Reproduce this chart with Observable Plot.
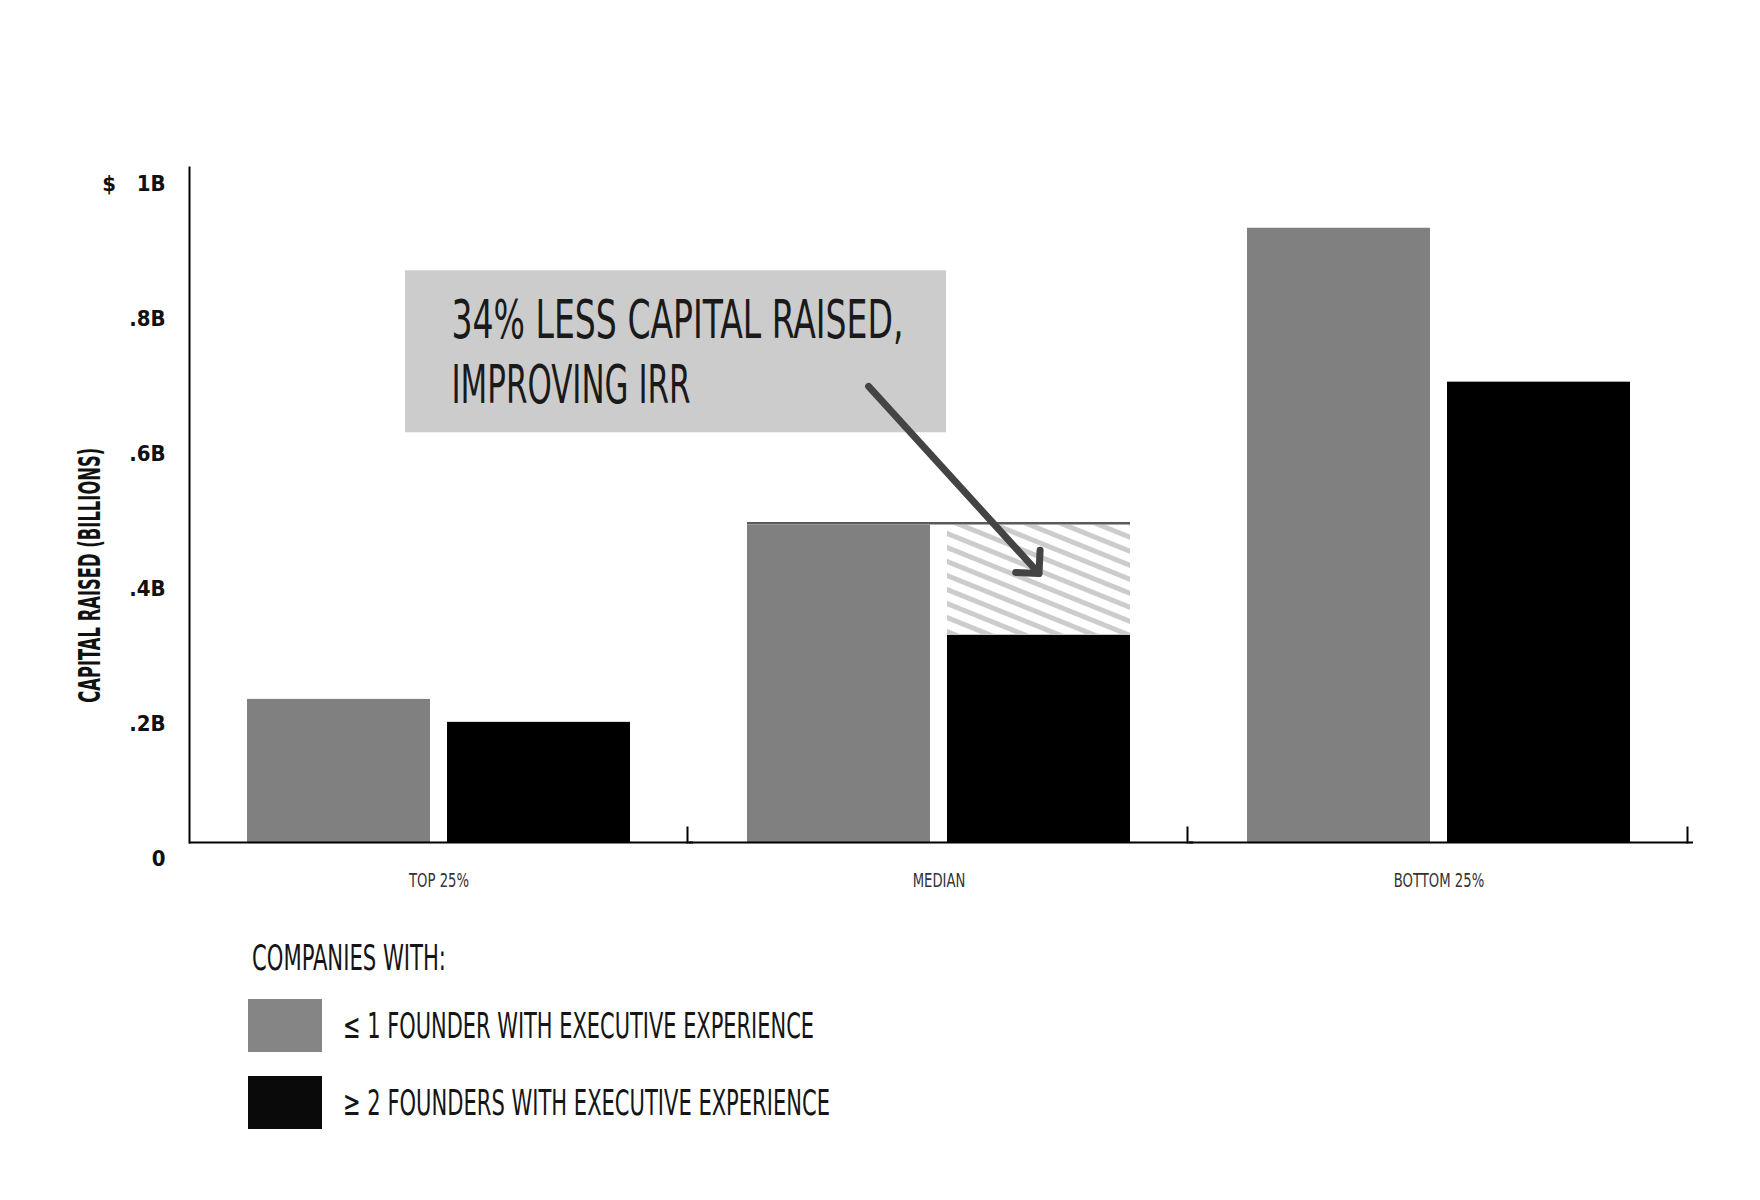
<!DOCTYPE html>
<html>
<head>
<meta charset="utf-8">
<script src="https://cdn.jsdelivr.net/npm/d3@7"></script>
<script src="https://cdn.jsdelivr.net/npm/@observablehq/plot@0.6"></script>
<style>
  html, body { margin: 0; padding: 0; background: #ffffff; }
  body { width: 1760px; height: 1200px; overflow: hidden;
         font-family: "Liberation Sans Narrow", "DejaVu Sans Condensed", "Liberation Sans", sans-serif; color: #151515; }
  #legend { position: relative; width: 1760px; height: 290px; }
  #legend .title { position: absolute; left: 252px; top: 24px; font-size: 36px; line-height: 48px; white-space: nowrap; transform-origin: 0 50%; display: inline-block; }
  #legend .row { position: absolute; left: 248px; height: 53px; display: flex; align-items: center; }
  #legend .sw { width: 74px; height: 53px; flex: none; }
  #legend .lab { margin-left: 21px; font-size: 35px; line-height: 48px; white-space: nowrap; display: inline-block; transform-origin: 0 50%; }
</style>
</head>
<body>
<svg width="0" height="0" style="position:absolute">
  <defs>
    <pattern id="hatch" patternUnits="userSpaceOnUse" width="13" height="13" patternTransform="rotate(22)">
      <rect x="0" y="0" width="13" height="5" fill="#cccccc"></rect>
    </pattern>
  </defs>
</svg>
<div id="chart"></div>
<div id="legend"></div>
<script>
// ---------- data ----------
const categories = ["TOP 25%", "MEDIAN", "BOTTOM 25%"];
const seriesKeys = ["le1", "ge2"];
const seriesLabels = ["\u2264 1 FOUNDER WITH EXECUTIVE EXPERIENCE", "\u2265 2 FOUNDERS WITH EXECUTIVE EXPERIENCE"];
const seriesColors = ["#808080", "#000000"];
const le1Values = [0.212, 0.470, 0.910];
const ge2Values = [0.178, 0.307, 0.682];
const yTicks = [0, 0.2, 0.4, 0.6, 0.8, 1];
const yTickLabels = ["0", ".2B", ".4B", ".6B", ".8B", "$\u00a0\u00a0\u00a01B"];
const yLabel = "CAPITAL RAISED (BILLIONS)";
const legendTitle = "COMPANIES WITH:";
const annotationLines = ["34% LESS CAPITAL RAISED,", "IMPROVING IRR"];
const annotationCategory = "MEDIAN";

// ---------- derived tables ----------
const rows = categories.flatMap((c, i) => [
  {category: c, series: seriesKeys[0], value: le1Values[i]},
  {category: c, series: seriesKeys[1], value: ge2Values[i]}
]);
const ai = categories.indexOf(annotationCategory);
const gapRows = [{category: annotationCategory, series: seriesKeys[1], from: ge2Values[ai], to: le1Values[ai]}];
const annRows = [{category: annotationCategory, text: annotationLines.join("\n"), from: seriesKeys[0], to: seriesKeys[1]}];
const yLabelRows = [{category: categories[0], text: yLabel}];

const FONT = '"Liberation Sans Narrow", "DejaVu Sans Condensed", "Liberation Sans", sans-serif';

const chart = Plot.plot({
  width: 1760,
  height: 910,
  marginLeft: 246,
  marginRight: 130,
  marginTop: 167,
  marginBottom: 68,
  style: {fontFamily: FONT, background: "#ffffff", color: "#151515", overflow: "visible"},
  fx: {domain: categories, paddingInner: 0.234, paddingOuter: 0, label: null},
  x: {domain: seriesKeys, paddingInner: 0.085, paddingOuter: 0, axis: null},
  y: {domain: [0, 1], axis: null},
  color: {domain: seriesKeys, range: seriesColors},
  marks: [
    // annotation box
    Plot.barY(annRows, {fx: "category", y1: 0.607, y2: 0.847, insetLeft: -342, insetRight: 184, fill: "#cccccc"}),
    // bars
    Plot.barY(rows, {fx: "category", x: "series", y: "value", fill: "series"}),
    // hatched difference
    Plot.barY(gapRows, {fx: "category", x: "series", y1: "from", y2: "to", fill: "url(#hatch)"}),
    Plot.ruleY(gapRows, {fx: "category", y: "to", stroke: "#5a5a5a", strokeWidth: 2.5, dy: -2}),
    // baseline and axis line
    Plot.ruleY([0], {insetLeft: -58, insetRight: -63, stroke: "#000", strokeWidth: 2}),
    Plot.frame({anchor: "left", facetAnchor: "left", insetLeft: -58, stroke: "#000", strokeWidth: 2}),
    // ticks between groups
    Plot.frame({anchor: "right", insetRight: -57, insetTop: 660, stroke: "#000", strokeWidth: 2}),
    // axes
    Plot.axisY({ticks: yTicks, tickFormat: (d) => yTickLabels[yTicks.indexOf(d)], tickSize: 0, tickPadding: 82,
                dy: 16, fontSize: 22, fontWeight: "bold", label: null, fill: "#111"}),
    Plot.axisFx({anchor: "bottom", tickSize: 0, tickPadding: 31, fontSize: 19, label: null, fill: "#333"}),
    Plot.text(yLabelRows, {fx: "category", text: "text", frameAnchor: "left", textAnchor: "middle", y: 0.396, dx: -157, rotate: -90,
                           fontSize: 30, fontWeight: "bold", fill: "#111"}),
    // annotation text and arrow
    Plot.text(annRows, {fx: "category", text: "text", frameAnchor: "left", y: 0.815, dx: -296, textAnchor: "start",
                        lineAnchor: "top", fontSize: 54, lineHeight: 1.2, fill: "#1a1a1a"}),
    Plot.arrow(annRows, {fx: "category", x1: "from", x2: "to", y1: 0.724, y2: 0.3985, insetStart: 44,
                         stroke: "#444", strokeWidth: 7, headLength: 5, headAngle: 90, strokeLinecap: "round", strokeLinejoin: "round"})
  ]
});
document.getElementById("chart").appendChild(chart);

// ---------- condense text to the reference's narrow lettering ----------
function fitTo(el, target) {
  const w = el.getComputedTextLength();
  if (w > 0) { el.setAttribute("textLength", target); el.setAttribute("lengthAdjust", "spacingAndGlyphs"); }
}
const svgNode = chart.tagName.toLowerCase() === "svg" ? chart : chart.querySelector("svg");
const allText = Array.from(svgNode.querySelectorAll("text"));
const allTspan = Array.from(svgNode.querySelectorAll("tspan"));
const annTargets = [452, 239];
allTspan.forEach(t => {
  const k = annotationLines.indexOf(t.textContent);
  if (k >= 0) fitTo(t, annTargets[k]);
});
allText.forEach(t => { if (t.textContent === yLabel) fitTo(t, 255); });
{
  const catTexts = allText.filter(t => categories.includes(t.textContent));
  const first = catTexts.find(t => t.textContent === categories[0]);
  if (first) {
    const ratio = 60 / first.getComputedTextLength();
    catTexts.forEach(t => fitTo(t, t.getComputedTextLength() * ratio));
  }
}

// ---------- legend ----------
const legend = d3.select("#legend");
const title = legend.append("div").attr("class", "title").text(legendTitle);
const rowTops = [89, 166];
const labTargets = [471, 487];
const swatchColors = ["#858585", "#0a0a0a"];
seriesKeys.forEach((k, i) => {
  const r = legend.append("div").attr("class", "row").style("top", rowTops[i] + "px");
  r.append("div").attr("class", "sw").style("background", swatchColors[i]);
  r.append("span").attr("class", "lab").text(seriesLabels[i]);
});
function squeezeHtml(node, target) {
  const w = node.getBoundingClientRect().width;
  if (w > 0) node.style.transform = `scaleX(${target / w})`;
}
squeezeHtml(title.node(), 194);
legend.selectAll(".lab").each(function(d, i) { squeezeHtml(this, labTargets[i]); });
</script>
</body>
</html>
